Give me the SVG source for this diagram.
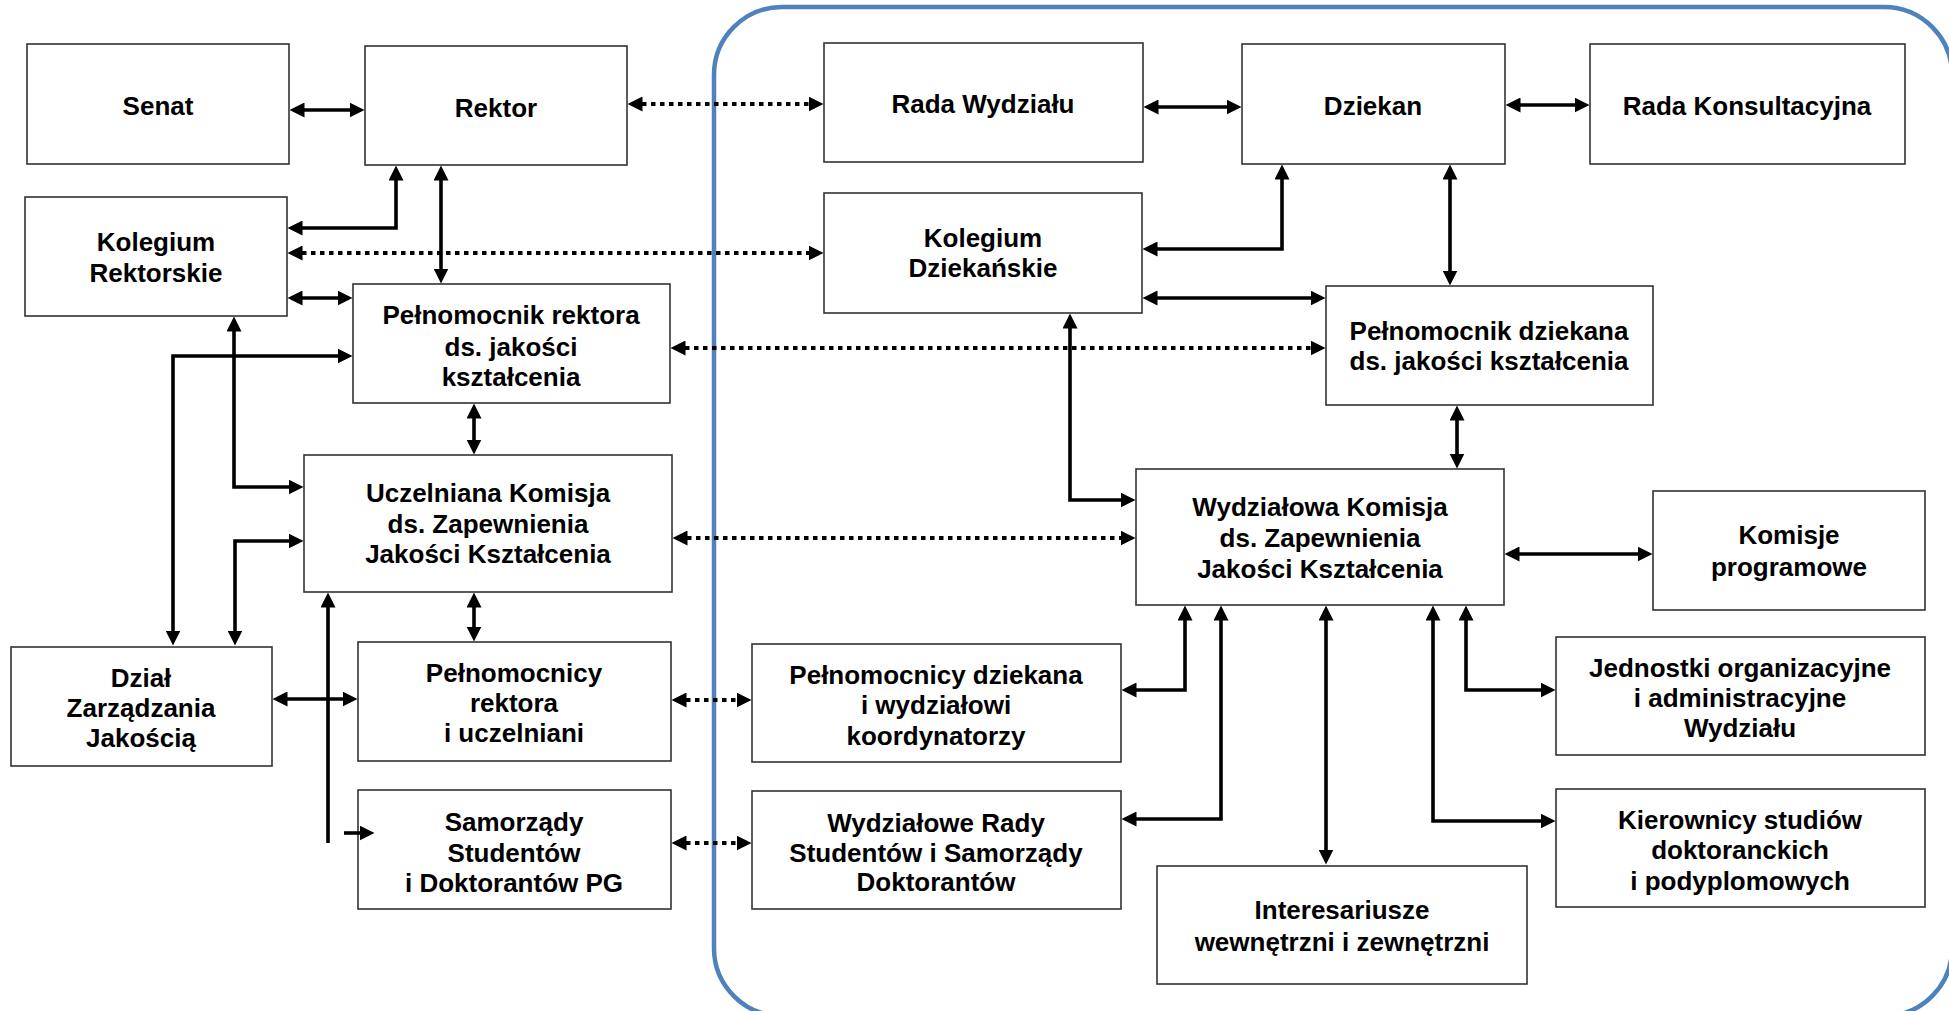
<svg xmlns="http://www.w3.org/2000/svg" width="1949" height="1011" viewBox="0 0 1949 1011">
<style>
  .box{fill:#fff;stroke:#333;stroke-width:1.6}
  .t{font-family:"Liberation Sans",Arial,sans-serif;font-weight:bold;font-size:26px;fill:#000;text-anchor:middle}
  .c{fill:none;stroke:#000;stroke-width:3.6;stroke-linejoin:miter}
  .b{marker-start:url(#ah);marker-end:url(#ah)}
  .e{marker-end:url(#ah)}
  .d{fill:none;stroke:#000;stroke-width:4;stroke-dasharray:4.5 4.5;marker-start:url(#ah);marker-end:url(#ah)}
  .frame{fill:none;stroke:#4f81bd;stroke-width:4.5}
</style>
<defs>
  <marker id="ah" markerUnits="userSpaceOnUse" markerWidth="15" markerHeight="15" viewBox="0 0 15 15" refX="0.5" refY="7.5" orient="auto-start-reverse">
    <path d="M0,0 L15,7.5 L0,15 z" fill="#000"/>
  </marker>
</defs>
<rect width="1949" height="1011" fill="#fff"/>
<rect class="frame" x="714" y="7" width="1238" height="1009" rx="68" ry="68"/>

<g id="senat"><rect class="box" x="27" y="44" width="262" height="120"/><text class="t" x="158" y="115">Senat</text></g>
<g id="rektor"><rect class="box" x="365" y="46" width="262" height="119"/><text class="t" x="496" y="117">Rektor</text></g>
<g id="kolegium-rektorskie"><rect class="box" x="25" y="197" width="262" height="119"/><text class="t" x="156" y="251">Kolegium</text><text class="t" x="156" y="282">Rektorskie</text></g>
<g id="pelnomocnik-rektora"><rect class="box" x="353" y="284" width="317" height="119"/><text class="t" x="511" y="324">Pełnomocnik rektora</text><text class="t" x="511" y="356">ds. jakości</text><text class="t" x="511" y="386">kształcenia</text></g>
<g id="uczelniana-komisja"><rect class="box" x="304" y="455" width="368" height="137"/><text class="t" x="488" y="502">Uczelniana Komisja</text><text class="t" x="488" y="533">ds. Zapewnienia</text><text class="t" x="488" y="563">Jakości Kształcenia</text></g>
<g id="dzial-zarzadzania"><rect class="box" x="11" y="647" width="261" height="119"/><text class="t" x="141" y="687">Dział</text><text class="t" x="141" y="717">Zarządzania</text><text class="t" x="141" y="747">Jakością</text></g>
<g id="pelnomocnicy-rektora"><rect class="box" x="358" y="642" width="313" height="119"/><text class="t" x="514" y="682">Pełnomocnicy</text><text class="t" x="514" y="712">rektora</text><text class="t" x="514" y="742">i uczelniani</text></g>
<g id="samorzady"><rect class="box" x="358" y="790" width="313" height="119"/><text class="t" x="514" y="831">Samorządy</text><text class="t" x="514" y="862">Studentów</text><text class="t" x="514" y="892">i Doktorantów PG</text></g>
<g id="rada-wydzialu"><rect class="box" x="824" y="43" width="319" height="119"/><text class="t" x="983" y="113">Rada Wydziału</text></g>
<g id="dziekan"><rect class="box" x="1242" y="44" width="263" height="120"/><text class="t" x="1373" y="115">Dziekan</text></g>
<g id="rada-konsultacyjna"><rect class="box" x="1590" y="44" width="315" height="120"/><text class="t" x="1747" y="115">Rada Konsultacyjna</text></g>
<g id="kolegium-dziekanskie"><rect class="box" x="824" y="193" width="318" height="120"/><text class="t" x="983" y="247">Kolegium</text><text class="t" x="983" y="277">Dziekańskie</text></g>
<g id="pelnomocnik-dziekana"><rect class="box" x="1326" y="286" width="327" height="119"/><text class="t" x="1489" y="340">Pełnomocnik dziekana</text><text class="t" x="1489" y="370">ds. jakości kształcenia</text></g>
<g id="wydzialowa-komisja"><rect class="box" x="1136" y="469" width="368" height="136"/><text class="t" x="1320" y="516">Wydziałowa Komisja</text><text class="t" x="1320" y="547">ds. Zapewnienia</text><text class="t" x="1320" y="578">Jakości Kształcenia</text></g>
<g id="komisje-programowe"><rect class="box" x="1653" y="491" width="272" height="119"/><text class="t" x="1789" y="544">Komisje</text><text class="t" x="1789" y="576">programowe</text></g>
<g id="jednostki"><rect class="box" x="1556" y="637" width="369" height="118"/><text class="t" x="1740" y="677">Jednostki organizacyjne</text><text class="t" x="1740" y="707">i administracyjne</text><text class="t" x="1740" y="737">Wydziału</text></g>
<g id="kierownicy"><rect class="box" x="1556" y="789" width="369" height="118"/><text class="t" x="1740" y="829">Kierownicy studiów</text><text class="t" x="1740" y="859">doktoranckich</text><text class="t" x="1740" y="890">i podyplomowych</text></g>
<g id="pelnomocnicy-dziekana"><rect class="box" x="752" y="644" width="369" height="118"/><text class="t" x="936" y="684">Pełnomocnicy dziekana</text><text class="t" x="936" y="714">i wydziałowi</text><text class="t" x="936" y="745">koordynatorzy</text></g>
<g id="wydzialowe-rady"><rect class="box" x="752" y="791" width="369" height="118"/><text class="t" x="936" y="832">Wydziałowe Rady</text><text class="t" x="936" y="862">Studentów i Samorządy</text><text class="t" x="936" y="891">Doktorantów</text></g>
<g id="interesariusze"><rect class="box" x="1157" y="866" width="370" height="118"/><text class="t" x="1342" y="919">Interesariusze</text><text class="t" x="1342" y="951">wewnętrzni i zewnętrzni</text></g>

<g id="connectors">
  <path class="c b" d="M304 110 H350"/>
  <path class="d" d="M642 104 H809"/>
  <path class="c b" d="M302 228 H396 V180"/>
  <path class="d" d="M302 253 H809"/>
  <path class="c b" d="M441 180 V269"/>
  <path class="c b" d="M302 298 H338"/>
  <path class="d" d="M685 348 H1311"/>
  <path class="c b" d="M173 631 V356 H338"/>
  <path class="c b" d="M234 331 V487 H289"/>
  <path class="c b" d="M235 631 V541 H289"/>
  <path class="c b" d="M474 418 V440"/>
  <path class="d" d="M687 538 H1121"/>
  <path class="c b" d="M474 607 V627"/>
  <path class="c e" d="M328 843 V607"/>
  <path class="c e" d="M344 833 H360"/>
  <path class="c b" d="M287 699 H343"/>
  <path class="d" d="M686 700 H737"/>
  <path class="d" d="M686 843 H737"/>
  <path class="c b" d="M1158 107 H1227"/>
  <path class="c b" d="M1520 105 H1575"/>
  <path class="c b" d="M1157 249 H1282 V179"/>
  <path class="c b" d="M1157 298 H1311"/>
  <path class="c b" d="M1450 179 V271"/>
  <path class="c b" d="M1457 420 V454"/>
  <path class="c b" d="M1070 328 V500 H1121"/>
  <path class="c b" d="M1519 554 H1638"/>
  <path class="c b" d="M1185 620 V690 H1136"/>
  <path class="c b" d="M1221 620 V819 H1136"/>
  <path class="c b" d="M1326 620 V850"/>
  <path class="c b" d="M1466 620 V690 H1541"/>
  <path class="c b" d="M1433 620 V821 H1541"/>
</g>
</svg>
